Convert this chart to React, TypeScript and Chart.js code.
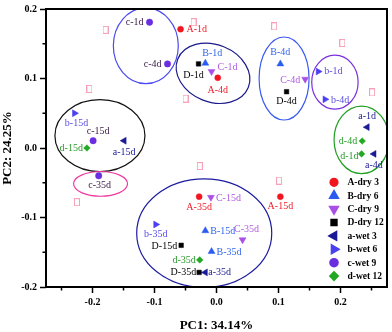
import React, { useEffect, useRef } from 'react';
import { Chart, registerables } from 'chart.js';
import { drawPoint } from 'chart.js/helpers';

Chart.register(...registerables);

// ---- axis ticks ----
const xTickValues = [-0.2, -0.1, 0, 0.1, 0.2];
const yTickValues = [-0.2, -0.1, 0, 0.1, 0.2];
const xMinorTicks = [-0.25, -0.15, -0.05, 0.05, 0.15, 0.25];
const yMinorTicks = [-0.15, -0.05, 0.05, 0.15];
const xTitle = 'PC1: 34.14%';
const yTitle = 'PC2: 24.25%';

// ---- series ----
const seriesNames = ['A-dry 3', 'B-dry 6', 'C-dry 9', 'D-dry 12', 'a-wet 3', 'b-wet 6', 'c-wet 9', 'd-wet 12'];

const A_labels = ['A-1d', 'A-4d', 'A-15d', 'A-35d'];
const A_pc1 = [-0.058, 0.002, 0.103, -0.028];
const A_pc2 = [0.171, 0.101, -0.07, -0.07];

const B_labels = ['B-1d', 'B-4d', 'B-15d', 'B-35d'];
const B_pc1 = [-0.018, 0.103, -0.018, -0.008];
const B_pc2 = [0.122, 0.121, -0.119, -0.149];

const C_labels = ['C-1d', 'C-4d', 'C-15d', 'C-35d'];
const C_pc1 = [-0.008, 0.143, -0.009, 0.042];
const C_pc2 = [0.11, 0.099, -0.071, -0.132];

const D_labels = ['D-1d', 'D-4d', 'D-15d', 'D-35d'];
const D_pc1 = [-0.029, 0.113, -0.057, -0.028];
const D_pc2 = [0.121, 0.081, -0.14, -0.179];

const a_labels = ['a-1d', 'a-4d', 'a-15d', 'a-35d'];
const a_pc1 = [0.243, 0.254, -0.149, -0.018];
const a_pc2 = [0.03, -0.0085, 0.0105, -0.179];

const b_labels = ['b-1d', 'b-4d', 'b-15d', 'b-35d'];
const b_pc1 = [0.164, 0.175, -0.229, -0.098];
const b_pc2 = [0.11, 0.07, 0.05, -0.11];

const c_labels = ['c-1d', 'c-4d', 'c-15d', 'c-35d'];
const c_pc1 = [-0.108, -0.079, -0.199, -0.19];
const c_pc2 = [0.181, 0.121, 0.0105, -0.04];

const d_labels = ['d-1d', 'd-4d', 'd-15d', 'd-35d'];
const d_pc1 = [0.234, 0.235, -0.209, -0.027];
const d_pc2 = [-0.0085, 0.01, 0.0, -0.161];

// unlabeled variable markers (open pink boxes)
const load_pc1 = [-0.179, -0.205, -0.037, -0.05, 0.093, 0.203, 0.251, 0.101, -0.027, -0.225];
const load_pc2 = [0.17, 0.085, 0.181, 0.071, 0.175, 0.151, 0.08, -0.047, -0.026, -0.078];

// ---- styles ----
const FONT = '"Liberation Serif", "Times New Roman", serif';

const seriesStyle = [
  { color: '#f2141e', label: '#f01a28', style: 'circle', rotation: 0, radius: 3 },
  { color: '#2a5cf0', label: '#3366ee', style: 'triangle', rotation: 0, radius: 4 },
  { color: '#a94fe6', label: '#b05ae0', style: 'triangle', rotation: 180, radius: 4 },
  { color: '#000000', label: '#000000', style: 'rect', rotation: 0, radius: 3.2 },
  { color: '#1a1a96', label: '#22229a', style: 'triangle', rotation: -90, radius: 4 },
  { color: '#4a40f0', label: '#5a4ee6', style: 'triangle', rotation: 90, radius: 4 },
  { color: '#6a2ee0', label: '#40204a', style: 'circle', rotation: 0, radius: 3.2 },
  { color: '#22a822', label: '#2a9a2a', style: 'rectRot', rotation: 0, radius: 3.3 },
];

// label offsets from marker [dx, dy, align]
const labelPlacement: Record<string, [number, number, CanvasTextAlign]> = {
  'A-1d': [6, 0, 'left'], 'A-4d': [0, 13, 'center'], 'A-15d': [0, 10, 'center'], 'A-35d': [0, 11, 'center'],
  'B-1d': [7, -10, 'center'], 'B-4d': [0, -12, 'center'], 'B-15d': [5, 1, 'left'], 'B-35d': [5, 1, 'left'],
  'C-1d': [6, -4, 'left'], 'C-4d': [-5, 1, 'right'], 'C-15d': [5, 1, 'left'], 'C-35d': [4, -10, 'center'],
  'D-1d': [-5, 11, 'center'], 'D-4d': [0, 10, 'center'], 'D-15d': [-4, 1, 'right'], 'D-35d': [-3, 0, 'right'],
  'a-1d': [0, -11, 'center'], 'a-4d': [0, 11, 'center'], 'a-15d': [0, 12, 'center'], 'a-35d': [3, 0, 'left'],
  'b-1d': [6, 0, 'left'], 'b-4d': [6, 1, 'left'], 'b-15d': [2, 10, 'center'], 'b-35d': [0, 10, 'center'],
  'c-1d': [-6, 0, 'right'], 'c-4d': [-6, 0, 'right'], 'c-15d': [5, -9, 'center'], 'c-35d': [1, 10, 'center'],
  'd-1d': [-3, 2, 'right'], 'd-4d': [-5, 0, 'right'], 'd-15d': [-4, 0, 'right'], 'd-35d': [-4, 0, 'right'],
};

// group ellipses (data-space centre & radii, rotation in degrees)
const groupEllipses = [
  { cx: -0.114, cy: 0.147, rx: 0.0524, ry: 0.0544, rot: 0, color: '#4a4af0' },
  { cx: -0.0056, cy: 0.1075, rx: 0.0613, ry: 0.0412, rot: 22, color: '#1a1a8c' },
  { cx: 0.109, cy: 0.1, rx: 0.0403, ry: 0.0597, rot: 0, color: '#3a5af0' },
  { cx: 0.191, cy: 0.0947, rx: 0.0374, ry: 0.0388, rot: 0, color: '#7a30e0' },
  { cx: 0.234, cy: 0.0117, rx: 0.0444, ry: 0.0486, rot: 0, color: '#22a022' },
  { cx: -0.188, cy: 0.0178, rx: 0.0726, ry: 0.0518, rot: 0, color: '#111111' },
  { cx: -0.187, cy: -0.0516, rx: 0.0435, ry: 0.0178, rot: 0, color: '#f03aa0' },
  { cx: -0.0198, cy: -0.1226, rx: 0.1089, ry: 0.0781, rot: 0, color: '#1c1ca0' },
];

const allSeries = [
  [A_labels, A_pc1, A_pc2], [B_labels, B_pc1, B_pc2], [C_labels, C_pc1, C_pc2], [D_labels, D_pc1, D_pc2],
  [a_labels, a_pc1, a_pc2], [b_labels, b_pc1, b_pc2], [c_labels, c_pc1, c_pc2], [d_labels, d_pc1, d_pc2],
] as [string[], number[], number[]][];

export default function App() {
  const ref = useRef<HTMLCanvasElement>(null);

  useEffect(() => {
    if (!ref.current) return;

    const box = document.createElement('canvas');
    box.width = 6; box.height = 8;
    const bctx = box.getContext('2d')!;
    bctx.strokeStyle = '#f7a2b8';
    bctx.lineWidth = 1;
    bctx.strokeRect(0.5, 0.5, 5, 7);

    const datasets: any[] = allSeries.map(([labels, xs, ys], i) => ({
      label: seriesNames[i],
      data: xs.map((x, j) => ({ x, y: ys[j], name: labels[j] })),
      pointStyle: seriesStyle[i].style,
      rotation: seriesStyle[i].rotation,
      pointRadius: seriesStyle[i].radius,
      backgroundColor: seriesStyle[i].color,
      borderColor: seriesStyle[i].color,
      pointBorderWidth: 0.5,
      showLine: false,
    }));
    datasets.push({
      label: 'loadings',
      data: load_pc1.map((x, j) => ({ x, y: load_pc2[j] })),
      pointStyle: box,
      pointRadius: 4,
      showLine: false,
      order: 10,
    });

    const ellipsePlugin = {
      id: 'ellipses',
      beforeDatasetsDraw(chart: any) {
        const { ctx, chartArea, scales } = chart;
        const xs = scales.x, ys = scales.y;
        ctx.save();
        ctx.beginPath();
        ctx.rect(chartArea.left, chartArea.top, chartArea.right - chartArea.left, chartArea.bottom - chartArea.top);
        ctx.clip();
        groupEllipses.forEach((e) => {
          const cx = xs.getPixelForValue(e.cx);
          const cy = ys.getPixelForValue(e.cy);
          const rx = Math.abs(xs.getPixelForValue(e.cx + e.rx) - cx);
          const ry = Math.abs(ys.getPixelForValue(e.cy + e.ry) - cy);
          ctx.beginPath();
          ctx.ellipse(cx, cy, rx, ry, (e.rot * Math.PI) / 180, 0, Math.PI * 2);
          ctx.strokeStyle = e.color;
          ctx.lineWidth = 1.2;
          ctx.stroke();
        });
        ctx.restore();
      },
    };

    const labelPlugin = {
      id: 'pointLabels',
      afterDatasetsDraw(chart: any) {
        const { ctx } = chart;
        ctx.save();
        ctx.font = `10px ${FONT}`;
        ctx.textBaseline = 'middle';
        allSeries.forEach(([labels], i) => {
          const meta = chart.getDatasetMeta(i);
          meta.data.forEach((pt: any, j: number) => {
            const name = labels[j];
            const [dx, dy, align] = labelPlacement[name] || [5, 0, 'left'];
            ctx.fillStyle = seriesStyle[i].label;
            ctx.textAlign = align;
            ctx.fillText(name, pt.x + dx, pt.y + dy);
          });
        });
        ctx.restore();
      },
    };

    const framePlugin = {
      id: 'frame',
      afterDraw(chart: any) {
        const { ctx, chartArea, scales } = chart;
        const { left, top, right, bottom } = chartArea;
        ctx.save();
        ctx.strokeStyle = '#000';
        ctx.lineWidth = 1.5;
        xMinorTicks.forEach((v) => {
          const px = scales.x.getPixelForValue(v);
          ctx.beginPath();
          ctx.moveTo(px, bottom);
          ctx.lineTo(px, bottom + 3.5);
          ctx.stroke();
        });
        yMinorTicks.forEach((v) => {
          const py = scales.y.getPixelForValue(v);
          ctx.beginPath();
          ctx.moveTo(left, py);
          ctx.lineTo(left - 3.5, py);
          ctx.stroke();
        });
        ctx.lineWidth = 2;
        ctx.strokeRect(left, top, right - left, bottom - top);

        // legend
        const mx = right - 53;
        const tx = right - 39.5;
        const y0 = bottom - 104.7;
        const step = 13.4;
        ctx.font = `bold 9.5px ${FONT}`;
        ctx.textBaseline = 'middle';
        ctx.textAlign = 'left';
        seriesNames.forEach((name, i) => {
          const y = y0 + i * step;
          const s = seriesStyle[i];
          ctx.fillStyle = s.color;
          ctx.strokeStyle = s.color;
          drawPoint(ctx, { pointStyle: s.style, rotation: s.rotation, radius: s.radius + 0.6, borderWidth: 0.5 } as any, mx, y);
          ctx.fillStyle = '#000';
          ctx.fillText(name, tx, y + 0.5);
        });
        ctx.restore();
      },
    };

    const tickFont = { family: FONT, size: 10, weight: 'bold' as const };
    const titleFont = { family: FONT, size: 13, weight: 'bold' as const, lineHeight: 1 };

    const chart = new Chart(ref.current, {
      type: 'scatter',
      data: { datasets },
      options: {
        animation: false,
        responsive: false,
        layout: { padding: { top: 5, right: 5, left: 0, bottom: 0 } },
        plugins: { legend: { display: false }, tooltip: { enabled: false } },
        scales: {
          x: {
            type: 'linear',
            min: -0.275,
            max: 0.275,
            afterBuildTicks: (s: any) => { s.ticks = xTickValues.map((v) => ({ value: v })); },
            afterFit: (s: any) => { s.height = 45; },
            ticks: {
              color: '#000',
              font: tickFont,
              padding: 3,
              maxRotation: 0,
              autoSkip: false,
              callback: (v: any) => Number(v).toFixed(1),
            },
            grid: { drawOnChartArea: false, drawTicks: true, tickLength: 6, tickWidth: 1.5, tickColor: '#000' },
            border: { display: false },
            title: { display: true, text: xTitle, color: '#000', font: titleFont, padding: 0 },
          },
          y: {
            type: 'linear',
            min: -0.2,
            max: 0.2,
            afterBuildTicks: (s: any) => { s.ticks = yTickValues.map((v) => ({ value: v })); },
            afterFit: (s: any) => { s.width = 46; },
            ticks: {
              color: '#000',
              font: tickFont,
              padding: 3,
              autoSkip: false,
              callback: (v: any) => Number(v).toFixed(1),
            },
            grid: { drawOnChartArea: false, drawTicks: true, tickLength: 6, tickWidth: 1.5, tickColor: '#000' },
            border: { display: false },
            title: { display: true, text: yTitle, color: '#000', font: titleFont, padding: { top: 1, bottom: 0 } },
          },
        },
      },
      plugins: [ellipsePlugin, labelPlugin, framePlugin],
    } as any);

    return () => chart.destroy();
  }, []);

  return (
    <div style={{ position: 'absolute', left: 0, top: 0, width: 392, height: 332, background: '#fff' }}>
      <canvas ref={ref} width={392} height={332} style={{ display: 'block' }} />
    </div>
  );
}
